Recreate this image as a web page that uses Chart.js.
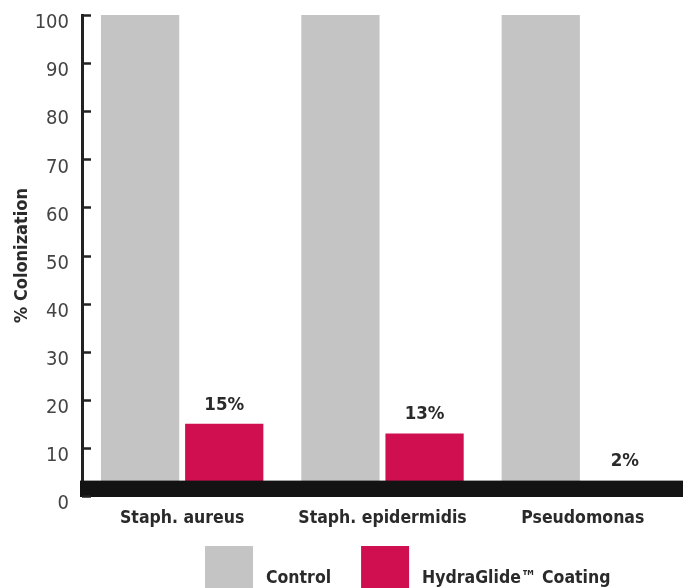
<!DOCTYPE html>
<html>
<head>
<meta charset="utf-8">
<script src="https://cdn.jsdelivr.net/npm/chart.js@4.4.0/dist/chart.umd.min.js"></script>
<style>
  html, body { margin: 0; padding: 0; background: #fff; overflow: hidden; }
  #wrap { width: 683px; height: 588px; position: relative; }
</style>
</head>
<body>
<div id="wrap"><canvas id="chart"></canvas></div>
<script>
// Colonization by organism: uncoated control vs. HydraGlide coating
const categories = ['Staph. aureus', 'Staph. epidermidis', 'Pseudomonas'];
const controlValues = [100, 100, 100];
const coatingValues = [15, 13, 2];
const coatingLabels = ['15%', '13%', '2%'];
const seriesNames = ['Control', 'HydraGlide\u2122 Coating'];
const yTickValues = [0, 10, 20, 30, 40, 50, 60, 70, 80, 90, 100];

const NARROW = '"DejaVu Sans Condensed", "Liberation Sans Narrow", sans-serif';
const GREY = '#c4c4c4';
const CRIMSON = '#cf0f4f';
const INK = '#2a2a2a';
const BAND_TOP_VALUE = 3.2;   // thickness of the black base band, in axis units

// Inward tick marks on the value axis, the heavy base band and the value labels
const decorations = {
  id: 'decorations',
  afterDatasetsDraw(chart) {
    const { ctx, scales: { y }, chartArea } = chart;
    ctx.save();
    // heavy black base band
    const bandTop = y.getPixelForValue(BAND_TOP_VALUE);
    const bandBottom = y.getPixelForValue(0) + 1;
    ctx.fillStyle = '#131313';
    ctx.fillRect(chartArea.left - 2, bandTop, chart.width - chartArea.left + 2, bandBottom - bandTop);

    // tick marks pointing into the plot
    ctx.strokeStyle = '#222';
    ctx.lineWidth = 2.5;
    y.ticks.forEach(t => {
      const py = Math.round(y.getPixelForValue(t.value)) + 0.5;
      ctx.beginPath();
      ctx.moveTo(chartArea.left, py);
      ctx.lineTo(chartArea.left + 9, py);
      ctx.stroke();
    });

    // percentage labels over the coating bars
    const meta = chart.getDatasetMeta(1);
    ctx.fillStyle = INK;
    ctx.font = 'bold 18.5px ' + NARROW;
    ctx.textAlign = 'center';
    ctx.textBaseline = 'middle';
    meta.data.forEach((bar, i) => {
      const top = Math.min(bar.y, bandTop);
      ctx.fillText(coatingLabels[i], bar.x, top - 19);
    });
    ctx.restore();
  },
  afterDraw(chart) {
    // legend row under the category labels
    const { ctx } = chart;
    ctx.save();
    ctx.font = 'bold 17.5px ' + NARROW;
    ctx.textBaseline = 'middle';
    ctx.textAlign = 'left';
    let x = 205;
    chart.data.datasets.forEach(ds => {
      ctx.fillStyle = ds.backgroundColor;
      ctx.fillRect(x, 546, 48, 42);
      ctx.fillStyle = INK;
      ctx.fillText(ds.label, x + 61, 578);
      x += 61 + ctx.measureText(ds.label).width + 30;
    });
    ctx.restore();
  }
};

new Chart(document.getElementById('chart'), {
  type: 'bar',
  data: {
    labels: categories,
    datasets: [
      { label: seriesNames[0], data: controlValues, backgroundColor: GREY },
      { label: seriesNames[1], data: coatingValues, backgroundColor: CRIMSON }
    ]
  },
  options: {
    responsive: true,
    maintainAspectRatio: false,
    animation: false,
    devicePixelRatio: 1,
    layout: { padding: { top: 15, right: 0, bottom: 0, left: 0 } },
    datasets: { bar: { categoryPercentage: 0.84, barPercentage: 0.93 } },
    plugins: {
      legend: { display: false },
      tooltip: { enabled: false }
    },
    scales: {
      x: {
        grid: { display: false },
        border: { display: false },
        ticks: {
          color: INK,
          font: { family: NARROW, size: 17.5, weight: 'bold' },
          padding: 4,
          maxRotation: 0
        },
        afterFit(scale) { scale.height = 92; }
      },
      y: {
        min: 0,
        max: 100,
        afterBuildTicks(scale) { scale.ticks = yTickValues.map(v => ({ value: v })); },
        grid: { display: true, drawOnChartArea: false, drawTicks: false },
        border: { display: true, color: '#222', width: 3 },
        ticks: {
          color: '#444',
          font: { family: NARROW, size: 20 },
          padding: 13,
          labelOffset: 8
        },
        title: {
          display: true,
          text: '% Colonization',
          color: INK,
          font: { family: NARROW, size: 18, weight: 'bold' },
          padding: { top: 12, bottom: 0 }
        },
        afterFit(scale) {
          scale.width = 82;
          scale.paddingTop = 0;
          scale.paddingBottom = 0;
        }
      }
    }
  },
  plugins: [decorations]
});
</script>
</body>
</html>
